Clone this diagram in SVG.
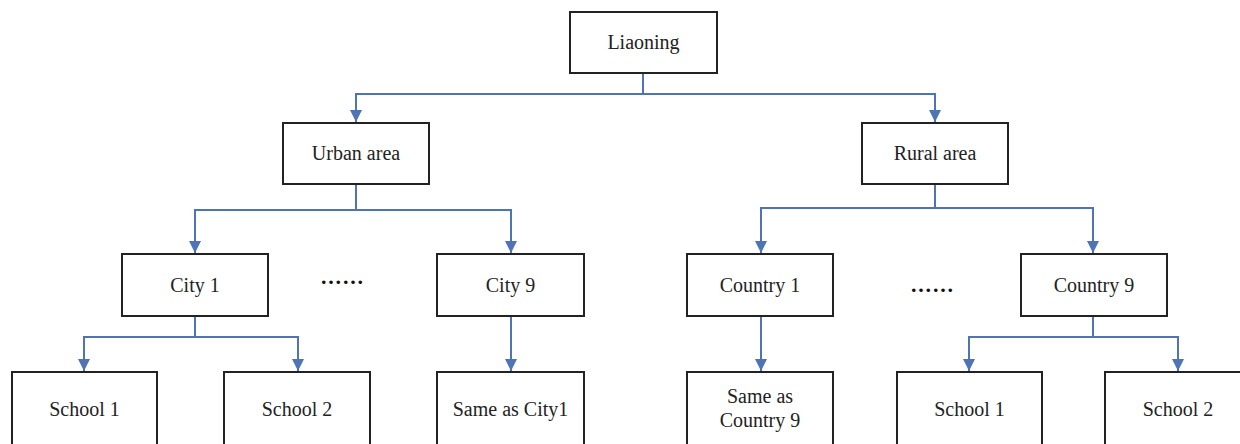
<svg xmlns="http://www.w3.org/2000/svg" width="1240" height="444" viewBox="0 0 1240 444">
<style>
.box{fill:#fff;stroke:#222;stroke-width:2}
.lbl{font-family:"Liberation Serif","Times New Roman",serif;font-size:20px;fill:#222;text-anchor:middle}
.con{fill:none;stroke:#4f74b6;stroke-width:2}
.dots{font-family:"Liberation Serif","Times New Roman",serif;font-size:22px;font-weight:bold;letter-spacing:1.8px;fill:#111}
</style>
<defs>
<marker id="ah" markerUnits="userSpaceOnUse" markerWidth="12" markerHeight="12" viewBox="0 0 12 12" refX="12" refY="6" orient="auto">
<path d="M0,0 L12,6 L0,12 Z" fill="#4f74b6"/>
</marker>
</defs>
<rect width="1240" height="444" fill="#fff"/>
<g id="connectors">
<path class="con" d="M643,73 V94"/>
<path class="con" d="M643,94 H356 V122" marker-end="url(#ah)"/>
<path class="con" d="M643,94 H935 V122" marker-end="url(#ah)"/>
<path class="con" d="M356,184 V210"/>
<path class="con" d="M356,210 H195 V253" marker-end="url(#ah)"/>
<path class="con" d="M356,210 H511 V253" marker-end="url(#ah)"/>
<path class="con" d="M935,184 V208"/>
<path class="con" d="M935,208 H761 V253" marker-end="url(#ah)"/>
<path class="con" d="M935,208 H1093 V253" marker-end="url(#ah)"/>
<path class="con" d="M195,316 V337"/>
<path class="con" d="M195,337 H84 V371" marker-end="url(#ah)"/>
<path class="con" d="M195,337 H298 V371" marker-end="url(#ah)"/>
<path class="con" d="M511,316 V371" marker-end="url(#ah)"/>
<path class="con" d="M761,316 V371" marker-end="url(#ah)"/>
<path class="con" d="M1093,316 V337"/>
<path class="con" d="M1093,337 H969 V371" marker-end="url(#ah)"/>
<path class="con" d="M1093,337 H1178 V371" marker-end="url(#ah)"/>
</g>
<g id="liaoning"><rect class="box" x="570" y="12" width="147" height="61"/><text class="lbl" x="643.5" y="49">Liaoning</text></g>
<g id="urban"><rect class="box" x="283" y="123" width="146" height="61"/><text class="lbl" x="356" y="160">Urban area</text></g>
<g id="rural"><rect class="box" x="862" y="123" width="146" height="61"/><text class="lbl" x="935" y="160">Rural area</text></g>
<g id="city1"><rect class="box" x="122" y="254" width="146" height="62"/><text class="lbl" x="195" y="292">City 1</text></g>
<g id="city9"><rect class="box" x="437" y="254" width="147" height="62"/><text class="lbl" x="510.5" y="292">City 9</text></g>
<g id="country1"><rect class="box" x="687" y="254" width="146" height="62"/><text class="lbl" x="760" y="292">Country 1</text></g>
<g id="country9"><rect class="box" x="1021" y="254" width="146" height="62"/><text class="lbl" x="1094" y="292">Country 9</text></g>
<g id="dots-urban"><text class="dots" x="321" y="284">......</text></g>
<g id="dots-rural"><text class="dots" x="911" y="292">......</text></g>
<g id="school1-city"><rect class="box" x="12" y="372" width="145" height="74"/><text class="lbl" x="84.5" y="416">School 1</text></g>
<g id="school2-city"><rect class="box" x="224" y="372" width="146" height="74"/><text class="lbl" x="297" y="416">School 2</text></g>
<g id="same-city1"><rect class="box" x="437" y="372" width="147" height="74"/><text class="lbl" x="510.5" y="416">Same as City1</text></g>
<g id="same-country9"><rect class="box" x="687" y="372" width="146" height="74"/><text class="lbl" x="760" y="403">Same as</text><text class="lbl" x="760" y="427">Country 9</text></g>
<g id="school1-country"><rect class="box" x="897" y="372" width="145" height="74"/><text class="lbl" x="969.5" y="416">School 1</text></g>
<g id="school2-country"><rect class="box" x="1105" y="372" width="146" height="74"/><text class="lbl" x="1178" y="416">School 2</text></g>
</svg>
